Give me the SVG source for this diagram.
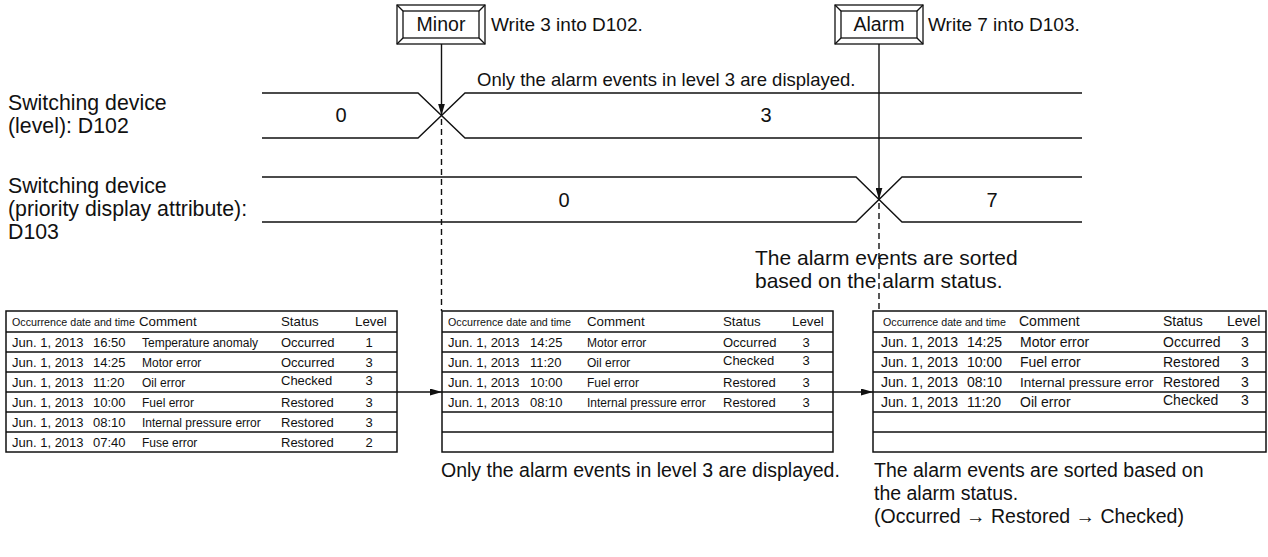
<svg xmlns="http://www.w3.org/2000/svg" width="1268" height="557" viewBox="0 0 1268 557">
<defs>
<style>
text{font-family:"Liberation Sans",Arial,sans-serif;fill:#111;}
.big{font-size:19px;}
.bt{font-size:19.5px;text-anchor:middle;}
.lbl{font-size:21.3px;}
.mid{font-size:18.5px;}
.srt{font-size:21px;}
.cap{font-size:19.5px;}
.val{font-size:20px;text-anchor:middle;}
.hs{font-size:10.7px;}
.hd{font-size:13.3px;}
.dt{font-size:13px;}
.cm{font-size:12px;}
.st{font-size:13px;}
.lv{font-size:13px;text-anchor:middle;}
.t3{font-size:13.5px;}
.t3s{font-size:14px;}
.c{text-anchor:middle;}
.ln{stroke:#111;stroke-width:1.4;fill:none;}
.tb{stroke:#111;stroke-width:1.5;fill:#fff;}
.rl{stroke:#111;stroke-width:1.5;}
.dash{stroke:#111;stroke-width:1.4;stroke-dasharray:6 4;fill:none;}
.btn{stroke:#111;stroke-width:1.3;fill:#fff;}
</style>
<marker id="ah" viewBox="0 0 12 7" refX="12" refY="3.5" markerWidth="12" markerHeight="7" markerUnits="userSpaceOnUse" orient="auto">
<path d="M0,0 L12,3.5 L0,7 z" fill="#111"/>
</marker>
</defs>
<rect width="1268" height="557" fill="#fff"/>

<g id="btn-minor">
<rect class="btn" x="397" y="5" width="88" height="39"/>
<rect class="btn" x="403" y="11" width="76" height="27"/>
<path class="ln" d="M397,5 L403,11 M485,5 L479,11 M397,44 L403,38 M485,44 L479,38" stroke-width="1.1"/>
<text class="bt" x="441" y="31">Minor</text>
<text class="big" x="491" y="31">Write 3 into D102.</text>
</g>

<g id="btn-alarm">
<rect class="btn" x="835" y="5" width="88" height="39"/>
<rect class="btn" x="841" y="11" width="76" height="27"/>
<path class="ln" d="M835,5 L841,11 M923,5 L917,11 M835,44 L841,38 M923,44 L917,38" stroke-width="1.1"/>
<text class="bt" x="879" y="31">Alarm</text>
<text class="big" x="928" y="31">Write 7 into D103.</text>
</g>

<g id="label-d102">
<text class="lbl" x="8" y="110">Switching device</text>
<text class="lbl" x="8" y="133">(level): D102</text>
</g>

<g id="label-d103">
<text class="lbl" x="8" y="193">Switching device</text>
<text class="lbl" x="8" y="216">(priority display attribute):</text>
<text class="lbl" x="8" y="239">D103</text>
</g>

<g id="bus-d102">
<path class="ln" d="M262,93 L418,93 L465,138 L1082,138 M262,138 L418,138 L465,93 L1082,93"/>
<text class="val" x="341" y="122">0</text>
<text class="val" x="766" y="122">3</text>
<text class="mid" x="477" y="86">Only the alarm events in level 3 are displayed.</text>
</g>

<g id="bus-d103">
<path class="ln" d="M262,177 L856,177 L902,222 L1082,222 M262,222 L856,222 L902,177 L1082,177"/>
<text class="val" x="564" y="207">0</text>
<text class="val" x="992" y="207">7</text>
<text class="srt" x="755" y="265">The alarm events are sorted</text>
<text class="srt" x="755" y="288">based on the alarm status.</text>
</g>

<g id="table1">
<rect class="tb" x="6" y="311" width="391" height="141"/>
<path class="rl" d="M6,332H397M6,352H397M6,372H397M6,392H397M6,412H397M6,432H397"/>
<text class="hs" x="12" y="326">Occurrence date and time</text>
<text class="hd" x="139" y="326">Comment</text>
<text class="hd" x="281" y="326">Status</text>
<text class="hd" x="355" y="326">Level</text>
<text class="dt" x="12" y="347">Jun. 1, 2013<tspan x="93">16:50</tspan></text>
<text class="cm" x="142" y="347">Temperature anomaly</text>
<text class="st" x="281" y="347">Occurred</text>
<text class="lv" x="369" y="347">1</text>
<text class="dt" x="12" y="367">Jun. 1, 2013<tspan x="93">14:25</tspan></text>
<text class="cm" x="142" y="367">Motor error</text>
<text class="st" x="281" y="367">Occurred</text>
<text class="lv" x="369" y="367">3</text>
<text class="dt" x="12" y="387">Jun. 1, 2013<tspan x="93">11:20</tspan></text>
<text class="cm" x="142" y="387">Oil error</text>
<text class="st" x="281" y="385">Checked</text>
<text class="lv" x="369" y="385">3</text>
<text class="dt" x="12" y="407">Jun. 1, 2013<tspan x="93">10:00</tspan></text>
<text class="cm" x="142" y="407">Fuel error</text>
<text class="st" x="281" y="407">Restored</text>
<text class="lv" x="369" y="407">3</text>
<text class="dt" x="12" y="427">Jun. 1, 2013<tspan x="93">08:10</tspan></text>
<text class="cm" x="142" y="427">Internal pressure error</text>
<text class="st" x="281" y="427">Restored</text>
<text class="lv" x="369" y="427">3</text>
<text class="dt" x="12" y="447">Jun. 1, 2013<tspan x="93">07:40</tspan></text>
<text class="cm" x="142" y="447">Fuse error</text>
<text class="st" x="281" y="447">Restored</text>
<text class="lv" x="369" y="447">2</text>
</g>

<g id="table2">
<rect class="tb" x="442" y="311" width="391" height="141"/>
<path class="rl" d="M442,332H833M442,352H833M442,372H833M442,392H833M442,412H833M442,432H833"/>
<text class="hs" x="448" y="326">Occurrence date and time</text>
<text class="hd" x="587" y="326">Comment</text>
<text class="hd" x="723" y="326">Status</text>
<text class="hd" x="792" y="326">Level</text>
<text class="dt" x="448" y="347">Jun. 1, 2013<tspan x="530">14:25</tspan></text>
<text class="cm" x="587" y="347">Motor error</text>
<text class="st" x="723" y="347">Occurred</text>
<text class="lv" x="806" y="347">3</text>
<text class="dt" x="448" y="367">Jun. 1, 2013<tspan x="530">11:20</tspan></text>
<text class="cm" x="587" y="367">Oil error</text>
<text class="st" x="723" y="365">Checked</text>
<text class="lv" x="806" y="365">3</text>
<text class="dt" x="448" y="387">Jun. 1, 2013<tspan x="530">10:00</tspan></text>
<text class="cm" x="587" y="387">Fuel error</text>
<text class="st" x="723" y="387">Restored</text>
<text class="lv" x="806" y="387">3</text>
<text class="dt" x="448" y="407">Jun. 1, 2013<tspan x="530">08:10</tspan></text>
<text class="cm" x="587" y="407">Internal pressure error</text>
<text class="st" x="723" y="407">Restored</text>
<text class="lv" x="806" y="407">3</text>
</g>

<g id="table3">
<rect class="tb" x="873" y="311" width="393" height="141"/>
<path class="rl" d="M873,332H1266M873,352H1266M873,372H1266M873,392H1266M873,412H1266M873,432H1266"/>
<text class="hs" x="883" y="326">Occurrence date and time</text>
<text class="t3s" x="1019" y="326">Comment</text>
<text class="t3s" x="1163" y="326">Status</text>
<text class="t3s" x="1227" y="326">Level</text>
<text class="t3s" x="881" y="347">Jun. 1, 2013<tspan x="967">14:25</tspan></text>
<text class="t3s" x="1020" y="347">Motor error</text>
<text class="t3s" x="1163" y="347">Occurred</text>
<text class="t3s c" x="1245" y="347">3</text>
<text class="t3s" x="881" y="367">Jun. 1, 2013<tspan x="967">10:00</tspan></text>
<text class="t3s" x="1020" y="367">Fuel error</text>
<text class="t3s" x="1163" y="367">Restored</text>
<text class="t3s c" x="1245" y="367">3</text>
<text class="t3s" x="881" y="387">Jun. 1, 2013<tspan x="967">08:10</tspan></text>
<text class="t3" x="1020" y="387">Internal pressure error</text>
<text class="t3s" x="1163" y="387">Restored</text>
<text class="t3s c" x="1245" y="387">3</text>
<text class="t3s" x="881" y="407">Jun. 1, 2013<tspan x="967">11:20</tspan></text>
<text class="t3s" x="1020" y="407">Oil error</text>
<text class="t3s" x="1163" y="405">Checked</text>
<text class="t3s c" x="1245" y="405">3</text>
</g>

<g id="notes">
<text class="cap" x="441" y="477">Only the alarm events in level 3 are displayed.</text>
<text class="cap" x="874" y="477">The alarm events are sorted based on</text>
<text class="cap" x="874" y="500">the alarm status.</text>
<text class="cap" x="874" y="523">(Occurred → Restored → Checked)</text>
</g>

<g id="connectors">
<line class="ln" x1="441.5" y1="44" x2="441.5" y2="115.5" marker-end="url(#ah)"/>
<line class="dash" x1="441.5" y1="119" x2="441.5" y2="311"/>
<line class="ln" x1="879" y1="44" x2="879" y2="199.5" marker-end="url(#ah)"/>
<line class="dash" x1="879" y1="203" x2="879" y2="311"/>
<line class="ln" x1="397" y1="392" x2="442" y2="392" marker-end="url(#ah)"/>
<line class="ln" x1="833" y1="392" x2="873" y2="392" marker-end="url(#ah)"/>
</g>
</svg>
